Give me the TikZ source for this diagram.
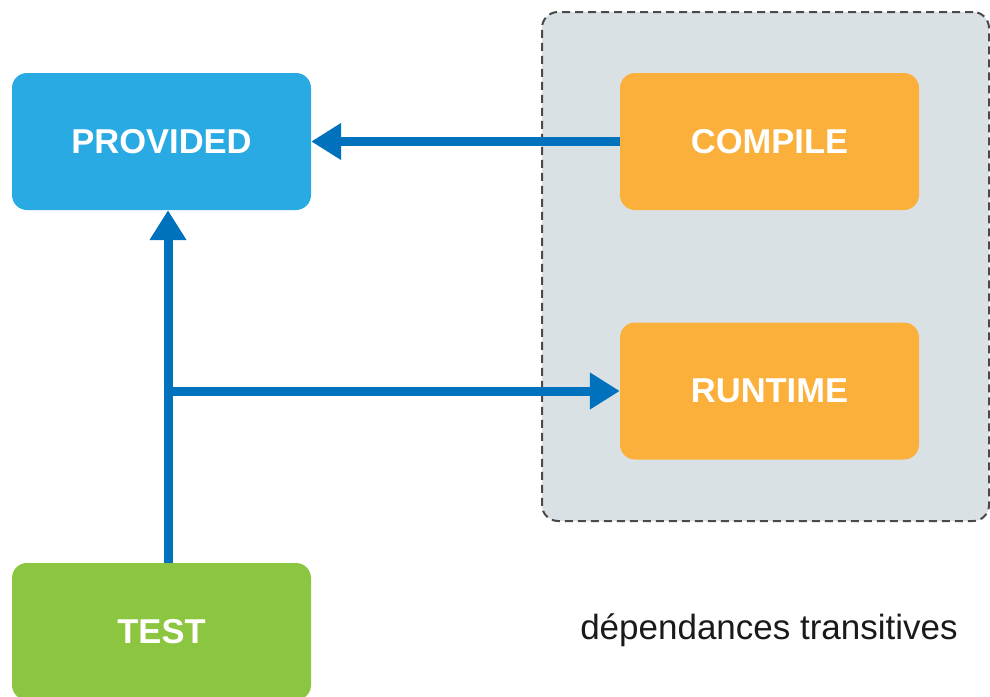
\documentclass[tikz,border=0pt]{standalone}
\usepackage{fontspec}
\setmainfont{Liberation Sans}
\usetikzlibrary{arrows.meta}
\definecolor{provblue}{HTML}{29AAE2}
\definecolor{orangebox}{HTML}{FBB03B}
\definecolor{greenbox}{HTML}{8CC540}
\definecolor{arrowblue}{HTML}{0071BC}
\definecolor{groupgray}{HTML}{DAE1E5}
\definecolor{dashgray}{HTML}{4A4A4A}
\definecolor{captiontext}{HTML}{1A1A1A}
\tikzset{
  box/.style={rounded corners=15pt, minimum width=299pt, minimum height=137pt, inner sep=0pt, text=white, font=\fontsize{34.5}{38}\selectfont\bfseries},
  grpbox/.style={rounded corners=16pt, fill=groupgray, draw=dashgray, line width=2pt, dash pattern=on 8pt off 5pt, minimum width=447pt, minimum height=509pt, inner sep=0pt},
  conn/.style={draw=arrowblue, line width=9pt, -{Triangle[length=30pt,width=35pt]}},
  caption/.style={text=captiontext, font=\fontsize{35}{38}\selectfont, inner sep=0pt}
}
\begin{document}
\begin{tikzpicture}[x=1pt,y=-1pt]
\useasboundingbox (0,0) rectangle (990,696);
\clip (0,0) rectangle (990,696);
\node[grpbox] (grp) at (765.5,266.5) {};
\node[box, fill=provblue] (prov) at (161.5,141.5) {PROVIDED};
\node[box, fill=orangebox] (comp) at (769.5,141.5) {COMPILE};
\node[box, fill=orangebox] (run) at (769.5,391) {RUNTIME};
\node[box, fill=greenbox] (test) at (161.5,631.5) {TEST};
\node[caption] (cap) at (769,630) {dépendances transitives};
\coordinate (j) at (168,391);
\draw[conn] (comp.west) -- (prov.east);
\draw[conn] (test.north -| j) -- (prov.south -| j);
\draw[conn] ([xshift=-4.5pt]j) -- (run.west);
\end{tikzpicture}
\end{document}
